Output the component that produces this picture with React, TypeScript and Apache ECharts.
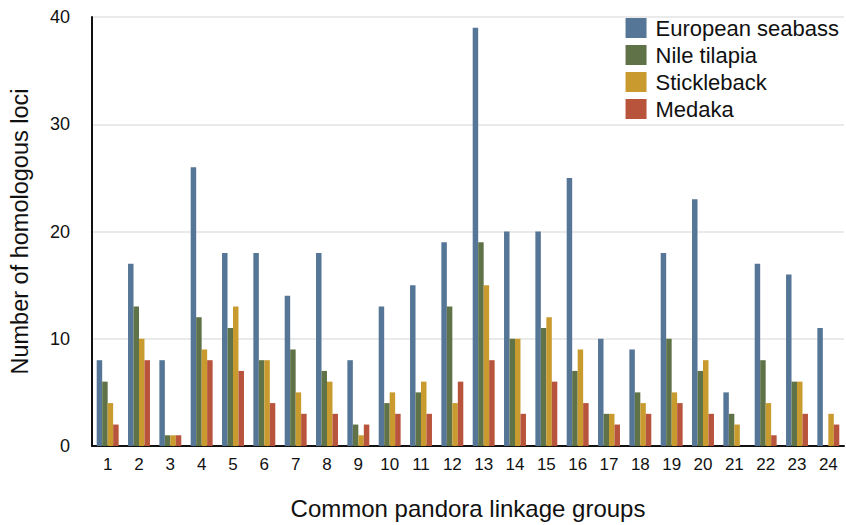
import React, { useEffect, useRef } from "react";
import * as echarts from "echarts";

const categories = ["1","2","3","4","5","6","7","8","9","10","11","12","13","14","15","16","17","18","19","20","21","22","23","24"];
const seabass = [8,17,8,26,18,18,14,18,8,13,15,19,39,20,20,25,10,9,18,23,5,17,16,11];
const tilapia = [6,13,1,12,11,8,9,7,2,4,5,13,19,10,11,7,3,5,10,7,3,8,6,0];
const stickleback = [4,10,1,9,13,8,5,6,1,5,6,4,15,10,12,9,3,4,5,8,2,4,6,3];
const medaka = [2,8,1,8,7,4,3,3,2,3,3,6,8,3,6,4,2,3,4,3,0,1,3,2];
const seriesNames = ["European seabass", "Nile tilapia", "Stickleback", "Medaka"];
const colors = ["#557696", "#5f7248", "#c99b2f", "#b8533c"];
const font = "'Liberation Sans', Arial, Helvetica, sans-serif";

export default function App() {
  const ref = useRef<HTMLDivElement>(null);
  useEffect(() => {
    const chart = echarts.init(ref.current!, null, { renderer: "svg" });
    const data = [seabass, tilapia, stickleback, medaka];
    chart.setOption({
      animation: false,
      textStyle: { fontFamily: font },
      grid: { left: 92, right: 2, top: 17, bottom: 72, containLabel: false },
      legend: {
        data: seriesNames,
        orient: "vertical",
        right: 2,
        top: 12,
        itemWidth: 21,
        itemHeight: 20,
        itemGap: 5,
        icon: "rect",
        textStyle: { fontSize: 22, color: "#111", fontFamily: font, padding: [0, 0, 0, 4] },
      },
      xAxis: {
        type: "category",
        data: categories,
        name: "Common pandora linkage groups",
        nameLocation: "middle",
        nameGap: 50,
        nameTextStyle: { fontSize: 24, color: "#111", fontFamily: font },
        axisLine: { lineStyle: { color: "#111", width: 2 } },
        axisTick: { show: false },
        axisLabel: { fontSize: 17, color: "#111", margin: 10, interval: 0, fontFamily: font },
      },
      yAxis: {
        type: "value",
        min: 0,
        max: 40,
        interval: 10,
        name: "Number of homologous loci",
        nameLocation: "middle",
        nameGap: 60,
        nameTextStyle: { fontSize: 23.5, color: "#111", fontFamily: font },
        axisLine: { show: true, lineStyle: { color: "#111", width: 2 } },
        axisTick: { show: false },
        axisLabel: { fontSize: 18, color: "#111", margin: 22, fontFamily: font },
        splitLine: { lineStyle: { color: "#e3e3e3", width: 1.5 } },
      },
      series: seriesNames.map((name, i) => ({
        name,
        type: "bar",
        data: data[i],
        barGap: "0%",
        barCategoryGap: "30%",
        itemStyle: { color: colors[i] },
      })),
    });
    return () => chart.dispose();
  }, []);
  return <div ref={ref} style={{ width: 846, height: 525, position: "absolute", left: 0, top: 0 }} />;
}
